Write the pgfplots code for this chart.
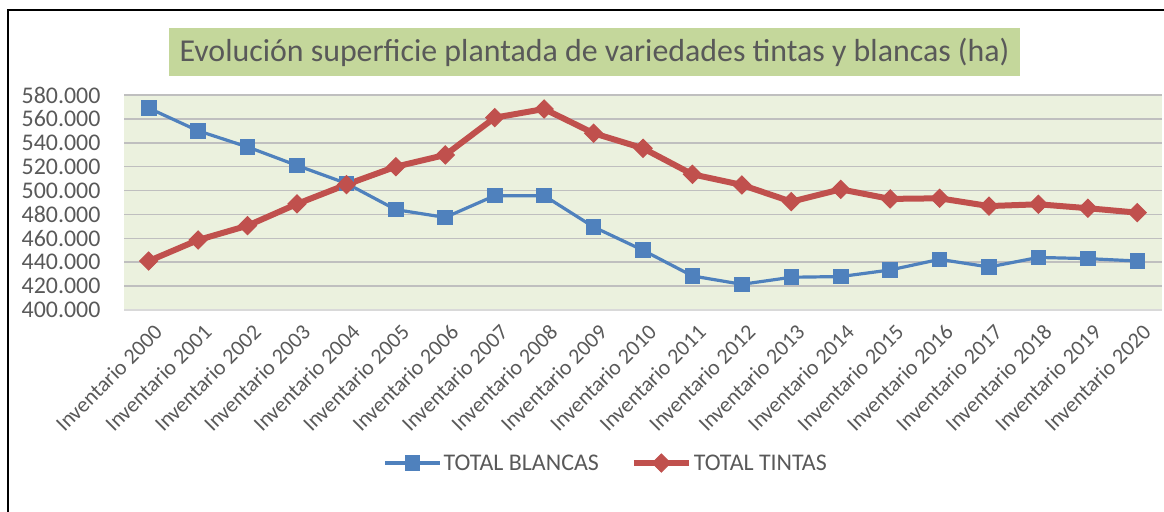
\documentclass[border=0pt]{standalone}
\usepackage{fontspec}
\setmainfont{Carlito}
\usepackage{pgfplots}
\pgfplotsset{compat=1.18}
\definecolor{cblue}{HTML}{4F81BD}
\definecolor{cred}{HTML}{C0504D}
\definecolor{bgg}{HTML}{EBF1DE}
\definecolor{titleg}{HTML}{C4D79B}
\definecolor{txt}{HTML}{595959}
\definecolor{gridc}{HTML}{BFBFBF}
\definecolor{axc}{HTML}{D9D9D9}
\begin{document}
\begin{tikzpicture}[x=1bp,y=1bp]
\path[use as bounding box] (0,0) rectangle (1164,512);
\draw[line width=2bp] (8,-10) -- (8,502) -- (1180,502);
\node[fill=titleg, minimum width=851bp, minimum height=48bp, inner sep=0pt, text=txt, font=\fontsize{32}{38}\selectfont] at (594.5,460) {Evolución superficie plantada de variedades tintas y blancas (ha)};
\begin{axis}[
  at={(124bp,202bp)}, anchor=south west,
  scale only axis, width=1038bp, height=215bp,
  xmin=-0.5, xmax=20.5, ymin=400000, ymax=580000,
  clip=false,
  axis background/.style={fill=bgg},
  axis lines*=left,
  x axis line style={draw=axc, line width=2.5bp},
  y axis line style={draw=none},
  major tick length=0pt,
  ytick={400000,420000,...,580000},
  ymajorgrids, grid style={draw=gridc, line width=1.5bp},
  xtick={0,...,20},
  xticklabels={Inventario 2000,Inventario 2001,Inventario 2002,Inventario 2003,Inventario 2004,Inventario 2005,Inventario 2006,Inventario 2007,Inventario 2008,Inventario 2009,Inventario 2010,Inventario 2011,Inventario 2012,Inventario 2013,Inventario 2014,Inventario 2015,Inventario 2016,Inventario 2017,Inventario 2018,Inventario 2019,Inventario 2020},
  xticklabel style={rotate=45, anchor=east, font=\fontsize{22}{26}\selectfont, text=txt, yshift=-20bp, xshift=-3bp},
  yticklabel style={font=\fontsize{24}{28}\selectfont, text=txt, xshift=-20bp},
  scaled y ticks=false,
  yticklabel={\pgfmathprintnumber[fixed,precision=0,1000 sep={.},assume math mode=true]{\tick}},
  legend style={at={(0.4645,-0.712)}, anchor=center, draw=none, fill=none, legend columns=2,
    font=\fontsize{24}{28}\selectfont, text=txt,
    /tikz/every even column/.append style={column sep=30bp}},
  legend image code/.code={\draw[mark repeat=2,mark phase=2] plot coordinates {(0bp,0bp) (27.5bp,0bp) (55bp,0bp)};},
]
\addplot[cblue, line width=3.2bp, mark=square*, mark size=7.3bp, mark options={line width=1bp}] coordinates {
(0,569000) (1,550000) (2,536500) (3,521000) (4,506000) (5,484000) (6,477500) (7,495700) (8,495700) (9,469500) (10,450000) (11,428500) (12,421500) (13,427400) (14,428000) (15,433500) (16,442400) (17,436000) (18,444000) (19,443000) (20,441000)};
\addlegendentry{TOTAL BLANCAS}
\addplot[cred, line width=6bp, mark=square*, mark size=6.4bp, mark options={rotate=45, line width=1bp}] coordinates {
(0,441000) (1,458600) (2,470600) (3,488800) (4,505000) (5,520000) (6,529800) (7,561000) (8,568300) (9,548000) (10,535400) (11,513600) (12,504700) (13,490700) (14,501000) (15,493000) (16,493500) (17,487000) (18,488500) (19,485200) (20,481500)};
\addlegendentry{TOTAL TINTAS}
\end{axis}
\end{tikzpicture}
\end{document}
